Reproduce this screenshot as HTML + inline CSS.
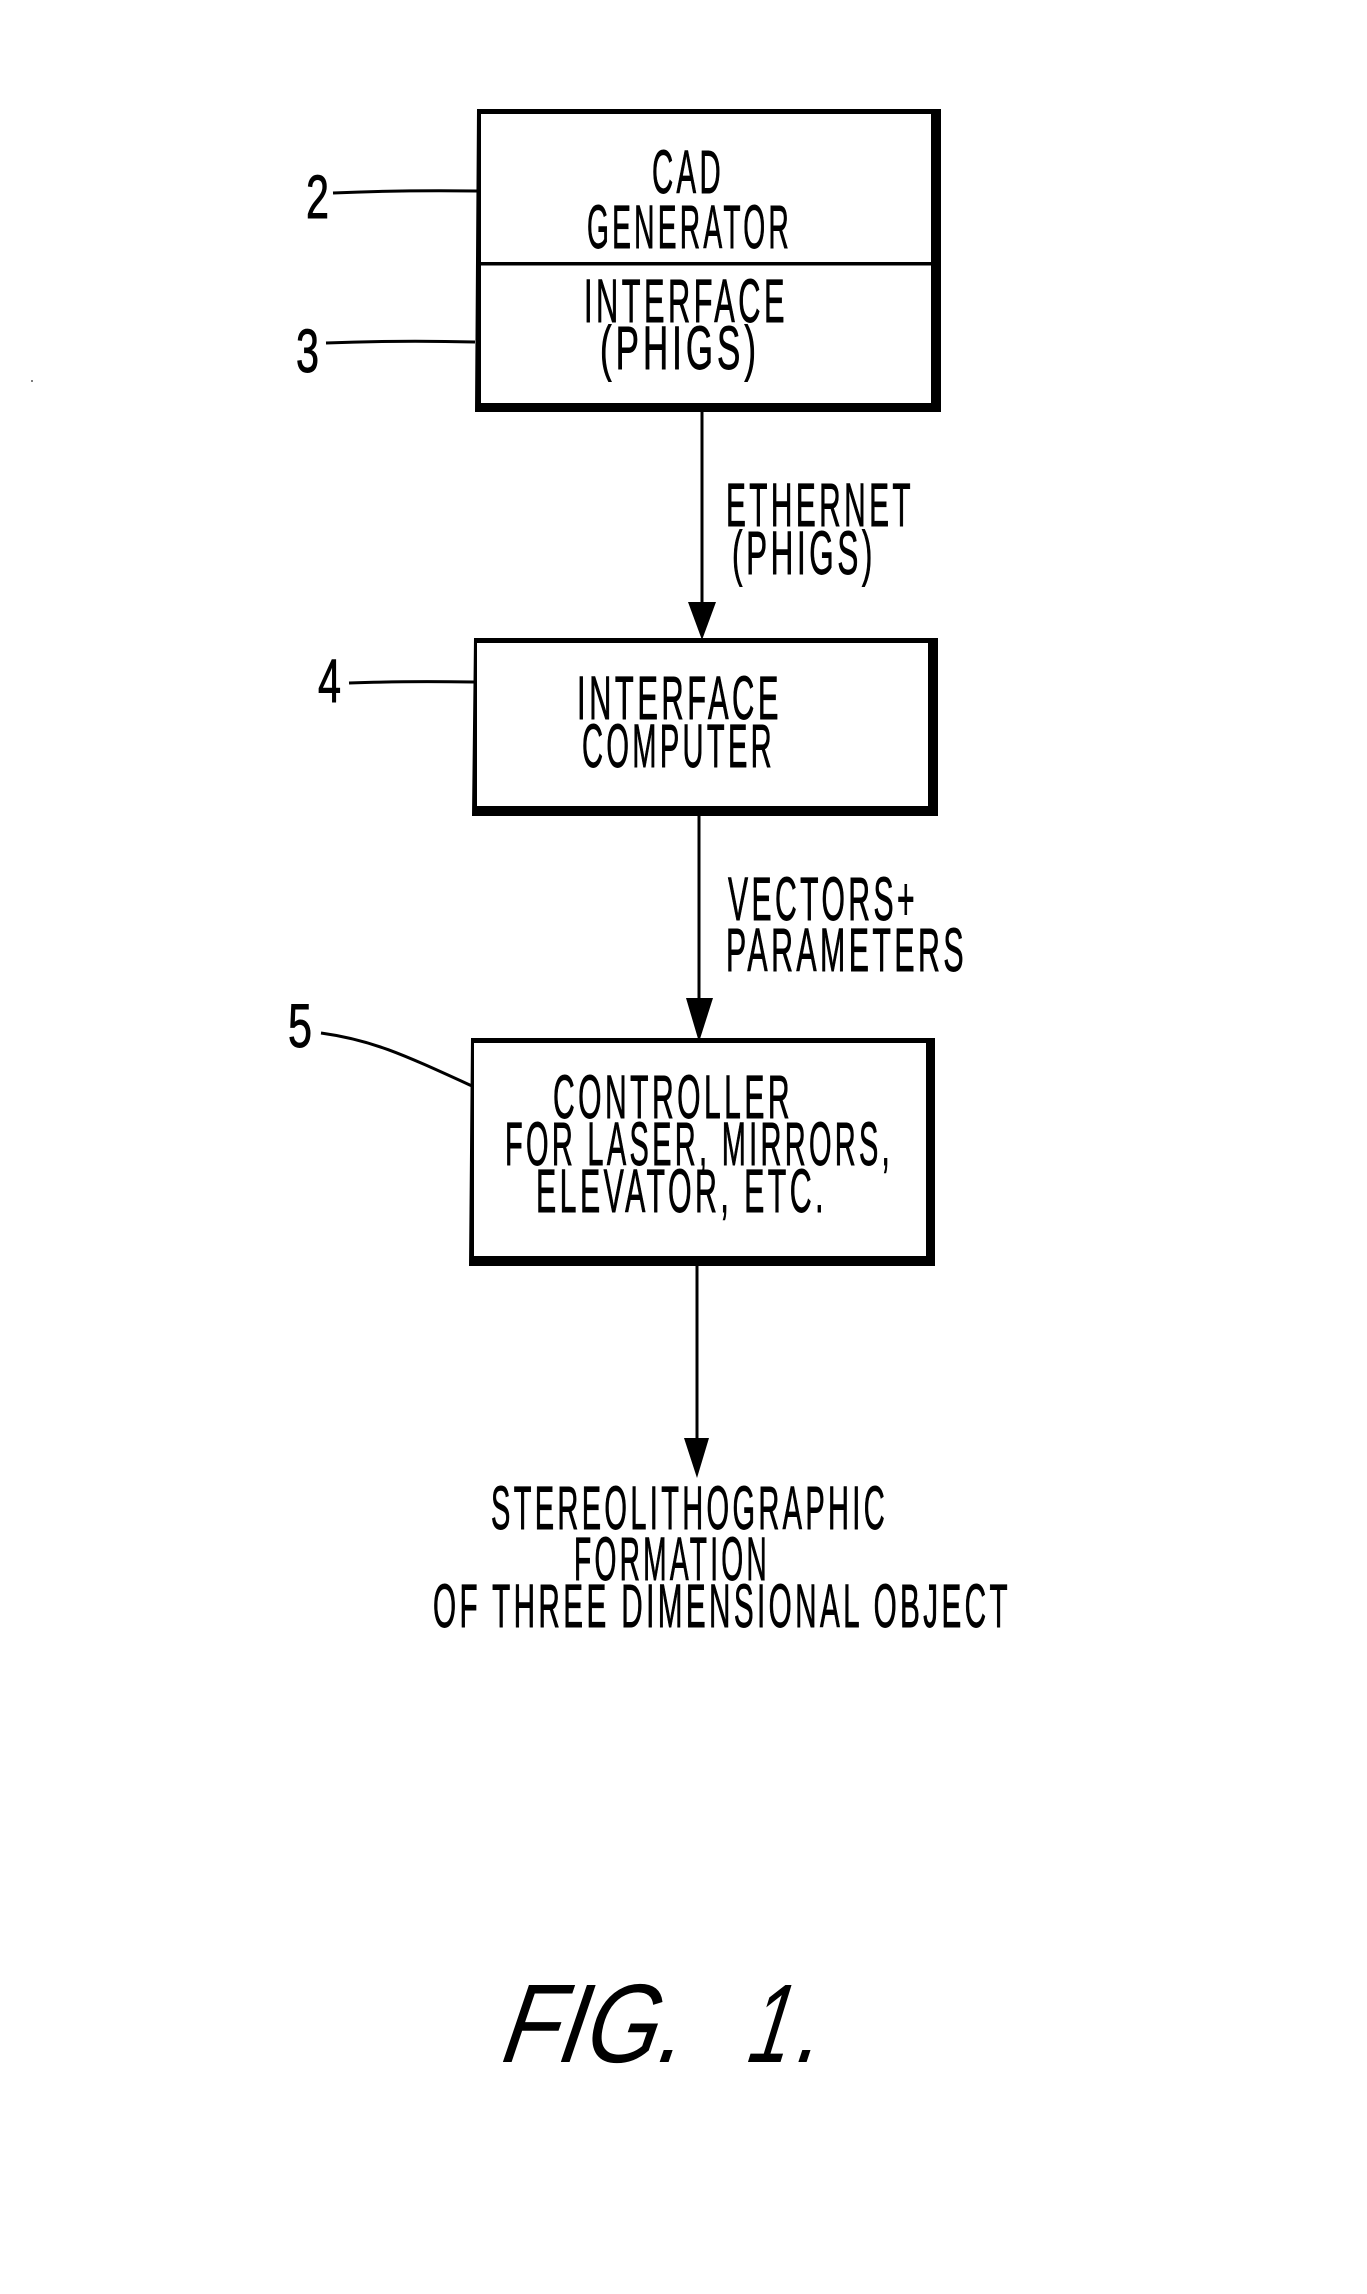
<!DOCTYPE html>
<html><head><meta charset="utf-8"><title>FIG. 1</title>
<style>
html,body{margin:0;padding:0;background:#fff}
svg{display:block}
text{font-family:"Liberation Sans",sans-serif;font-size:61px;fill:#000;stroke:#000;stroke-width:.9px;letter-spacing:7px}
text.n{letter-spacing:0}
text.c{font-size:112px;font-style:italic;letter-spacing:0;stroke-width:0}
</style></head><body>
<svg width="1367" height="2294" viewBox="0 0 1367 2294" xmlns="http://www.w3.org/2000/svg">
<rect width="1367" height="2294" fill="#fff"/>
<circle cx="32" cy="381" r="1" fill="#555"/>
<!-- Boxes -->
<g fill="#000">
<path fill-rule="evenodd" d="M477 109H941V412H475Z M481 114V403H931V114Z"/>
<rect x="477" y="262" width="456" height="3.5"/>
<path fill-rule="evenodd" d="M474 638H938V816H472Z M477 643V806H928V643Z"/>
<path fill-rule="evenodd" d="M471 1038H935V1266H469Z M474 1043V1256H926V1043Z"/>
<!-- arrows -->
<rect x="700.5" y="412" width="3" height="195"/>
<path d="M688 602H716L702 640Z"/>
<rect x="697.5" y="816" width="3" height="186"/>
<path d="M686 998H713L699 1042Z"/>
<rect x="695.5" y="1266" width="3" height="176"/>
<path d="M684 1438H709L697 1478Z"/>
</g>
<!-- Leaders -->
<g fill="none" stroke="#000" stroke-width="3">
<path d="M333 193Q400 190 477 191"/>
<path d="M326 343Q400 340 475 342"/>
<path d="M349 683Q400 681 474 682"/>
<path d="M321 1033C372 1040 402 1054 472 1086"/>
</g>
<!-- Labels -->
<text x="652" y="193" textLength="72" lengthAdjust="spacingAndGlyphs">CAD</text>
<text x="587" y="248" textLength="205" lengthAdjust="spacingAndGlyphs">GENERATOR</text>
<text x="584" y="322" textLength="204" lengthAdjust="spacingAndGlyphs">INTERFACE</text>
<text x="600" y="369" textLength="160" lengthAdjust="spacingAndGlyphs">(PHIGS)</text>
<text x="726" y="526" textLength="188" lengthAdjust="spacingAndGlyphs">ETHERNET</text>
<text x="732" y="574" textLength="144" lengthAdjust="spacingAndGlyphs">(PHIGS)</text>
<text x="577" y="719" textLength="205" lengthAdjust="spacingAndGlyphs">INTERFACE</text>
<text x="582" y="767" textLength="193" lengthAdjust="spacingAndGlyphs">COMPUTER</text>
<text x="728" y="920" textLength="190" lengthAdjust="spacingAndGlyphs">VECTORS+</text>
<text x="726" y="971" textLength="241" lengthAdjust="spacingAndGlyphs">PARAMETERS</text>
<text x="553" y="1118" textLength="240" lengthAdjust="spacingAndGlyphs">CONTROLLER</text>
<text x="505" y="1165" textLength="388" lengthAdjust="spacingAndGlyphs">FOR LASER, MIRRORS,</text>
<text x="536" y="1212" textLength="291" lengthAdjust="spacingAndGlyphs">ELEVATOR, ETC.</text>
<text x="491" y="1529" textLength="397" lengthAdjust="spacingAndGlyphs">STEREOLITHOGRAPHIC</text>
<text x="574" y="1580" textLength="196" lengthAdjust="spacingAndGlyphs">FORMATION</text>
<text x="433" y="1627" textLength="578" lengthAdjust="spacingAndGlyphs">OF THREE DIMENSIONAL OBJECT</text>
<text class="n" x="306" y="218" textLength="23" lengthAdjust="spacingAndGlyphs">2</text>
<text class="n" x="296" y="372" textLength="23" lengthAdjust="spacingAndGlyphs">3</text>
<text class="n" x="318" y="702" textLength="23" lengthAdjust="spacingAndGlyphs">4</text>
<text class="n" x="288" y="1047" textLength="24" lengthAdjust="spacingAndGlyphs">5</text>
<!-- Figure caption -->
<g transform="translate(0 2062) skewX(-10)">
<text class="c" x="500" y="0" textLength="182" lengthAdjust="spacingAndGlyphs">FIG.</text>
<text class="c" x="746" y="0" textLength="42" lengthAdjust="spacingAndGlyphs">1</text>
<text class="c" x="795" y="0" textLength="24" lengthAdjust="spacingAndGlyphs">.</text>
</g>
</svg>
</body></html>
